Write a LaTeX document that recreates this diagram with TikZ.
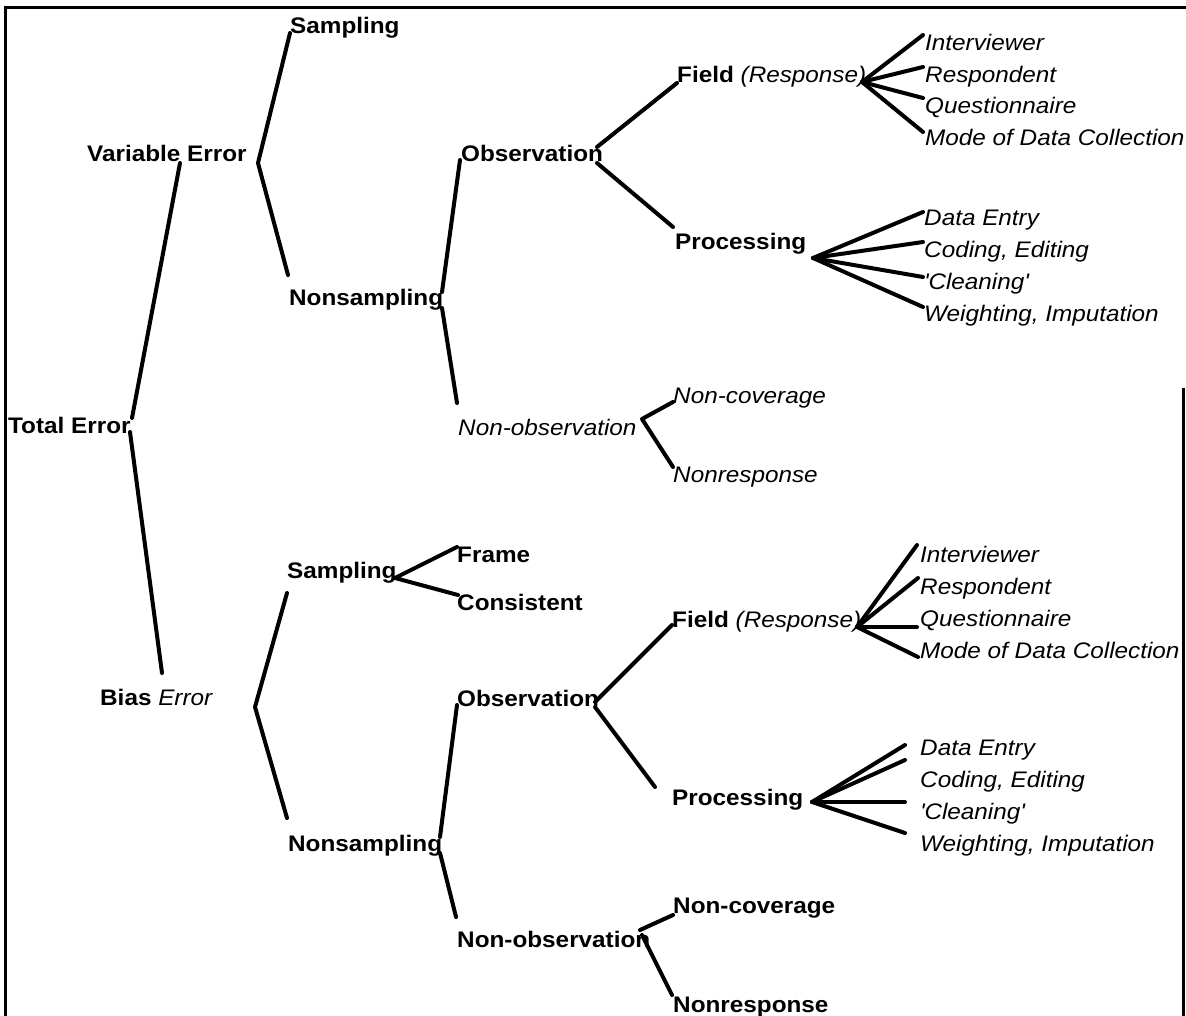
\documentclass[tikz,border=0pt]{standalone}
\usepackage{fontspec}
\setmainfont{Liberation Sans}[FakeStretch=1.08]
\begin{document}
\begin{tikzpicture}[x=1pt,y=-1pt,
  lbl/.style={inner sep=0pt,anchor=base west,font=\fontsize{22.5}{27}\selectfont},
  bl/.style={lbl,font=\fontsize{22.5}{27}\selectfont\bfseries},
  it/.style={lbl,font=\fontsize{22.5}{27}\selectfont\itshape},
  branch/.style={line width=4pt,line cap=round,line join=round},
  frame/.style={line width=3pt}]
\useasboundingbox (0,0) rectangle (1186,1016);

% open frame around the chart
\draw[frame] (5,1016) -- (5,8) -- (1186,8);
\draw[frame] (1183,388) -- (1183,1016);

% ---------- labels ----------
\node[bl] (total) at (8,433) {Total Error};

% variable error branch
\node[bl] (var)   at (87,162)  {Variable Error};
\node[bl] (vs)    at (290,34)  {Sampling};
\node[bl] (vns)   at (289,306) {Nonsampling};
\node[bl] (vobs)  at (461,162) {Observation};
\node[it] (vnobs) at (458,435) {Non-observation};
\node[lbl] (vfield) at (677,83) {\textbf{Field} \textit{(Response)}};
\node[bl] (vproc) at (675,250) {Processing};
\node[it] (vi1) at (925,51)  {Interviewer};
\node[it] (vi2) at (925,83)  {Respondent};
\node[it] (vi3) at (925,114) {Questionnaire};
\node[it] (vi4) at (925,146) {Mode of Data Collection};
\node[it] (vp1) at (924,226) {Data Entry};
\node[it] (vp2) at (924,258) {Coding, Editing};
\node[it] (vp3) at (924,290) {\textquotesingle Cleaning\textquotesingle};
\node[it] (vp4) at (924,322) {Weighting, Imputation};
\node[it] (vnc) at (673,403) {Non-coverage};
\node[it] (vnr) at (673,482) {Nonresponse};

% bias error branch
\node[lbl] (bias) at (100,705) {\textbf{Bias} \textit{Error}};
\node[bl] (bs)     at (287,578) {Sampling};
\node[bl] (bframe) at (457,562) {Frame};
\node[bl] (bcons)  at (457,610) {Consistent};
\node[bl] (bns)    at (288,851) {Nonsampling};
\node[bl] (bobs)   at (457,706) {Observation};
\node[bl] (bnobs)  at (457,947) {Non-observation};
\node[lbl] (bfield) at (672,627) {\textbf{Field} \textit{(Response)}};
\node[bl] (bproc)  at (672,805) {Processing};
\node[it] (bi1) at (920,562) {Interviewer};
\node[it] (bi2) at (920,594) {Respondent};
\node[it] (bi3) at (920,626) {Questionnaire};
\node[it] (bi4) at (920,658) {Mode of Data Collection};
\node[it] (bp1) at (920,755) {Data Entry};
\node[it] (bp2) at (920,787) {Coding, Editing};
\node[it] (bp3) at (920,819) {\textquotesingle Cleaning\textquotesingle};
\node[it] (bp4) at (920,851) {Weighting, Imputation};
\node[bl] (bnc) at (673,913) {Non-coverage};
\node[bl] (bnr) at (673,1012) {Nonresponse};

% ---------- branch points ----------
\coordinate (total-a) at (132,418);
\coordinate (total-b) at (130,432);
\coordinate (var-in)  at (180,163);
\coordinate (var-out) at (258,163);
\coordinate (vs-in)   at (290,33);
\coordinate (vns-in)  at (288,275);
\coordinate (vns-a)   at (442,292);
\coordinate (vns-b)   at (442,308);
\coordinate (vobs-in) at (460,160);
\coordinate (vnobs-in) at (457,403);
\coordinate (vobs-a)  at (597,147);
\coordinate (vobs-b)  at (597,163);
\coordinate (vfield-in) at (677,83);
\coordinate (vproc-in)  at (673,227);
\coordinate (vfield-out) at (862,82);
\coordinate (vproc-out)  at (813,258);
\coordinate (vi1-in) at (923,35);
\coordinate (vi2-in) at (923,67);
\coordinate (vi3-in) at (923,98);
\coordinate (vi4-in) at (923,132);
\coordinate (vp1-in) at (923,212);
\coordinate (vp2-in) at (923,242);
\coordinate (vp3-in) at (923,277);
\coordinate (vp4-in) at (923,307);
\coordinate (vnobs-a) at (642,419);
\coordinate (vnc-in) at (673,402);
\coordinate (vnr-in) at (673,467);

\coordinate (bias-in)  at (162,673);
\coordinate (bias-out) at (255,707);
\coordinate (bs-in)    at (287,593);
\coordinate (bns-in)   at (287,818);
\coordinate (bs-out)   at (395,578);
\coordinate (bframe-in) at (457,547);
\coordinate (bcons-in)  at (458,595);
\coordinate (bns-a)    at (440,837);
\coordinate (bns-b)    at (440,853);
\coordinate (bobs-in)  at (457,705);
\coordinate (bnobs-in) at (456,917);
\coordinate (bobs-a)   at (595,702);
\coordinate (bobs-b)   at (595,707);
\coordinate (bfield-in) at (672,625);
\coordinate (bproc-in)  at (655,787);
\coordinate (bfield-out) at (857,627);
\coordinate (bproc-out)  at (812,802);
\coordinate (bi1-in) at (917,545);
\coordinate (bi2-in) at (918,578);
\coordinate (bi3-in) at (917,627);
\coordinate (bi4-in) at (918,657);
\coordinate (bp1-in) at (905,745);
\coordinate (bp2-in) at (905,760);
\coordinate (bp3-in) at (905,802);
\coordinate (bp4-in) at (905,833);
\coordinate (bnobs-a) at (640,930);
\coordinate (bnobs-b) at (642,935);
\coordinate (bnc-in) at (673,915);
\coordinate (bnr-in) at (672,995);

% ---------- connectors ----------
\draw[branch] (total-a) -- (var-in);
\draw[branch] (total-b) -- (bias-in);

\draw[branch] (vs-in) -- (var-out) -- (vns-in);
\draw[branch] (vobs-in) -- (vns-a);
\draw[branch] (vns-b) -- (vnobs-in);
\draw[branch] (vfield-in) -- (vobs-a);
\draw[branch] (vobs-b) -- (vproc-in);
\foreach \k in {1,...,4} \draw[branch] (vfield-out) -- (vi\k-in);
\foreach \k in {1,...,4} \draw[branch] (vproc-out) -- (vp\k-in);
\draw[branch] (vnc-in) -- (vnobs-a) -- (vnr-in);

\draw[branch] (bs-in) -- (bias-out) -- (bns-in);
\draw[branch] (bframe-in) -- (bs-out) -- (bcons-in);
\draw[branch] (bobs-in) -- (bns-a);
\draw[branch] (bns-b) -- (bnobs-in);
\draw[branch] (bfield-in) -- (bobs-a);
\draw[branch] (bobs-b) -- (bproc-in);
\foreach \k in {1,...,4} \draw[branch] (bfield-out) -- (bi\k-in);
\foreach \k in {1,...,4} \draw[branch] (bproc-out) -- (bp\k-in);
\draw[branch] (bnc-in) -- (bnobs-a);
\draw[branch] (bnobs-b) -- (bnr-in);
\end{tikzpicture}
\end{document}
